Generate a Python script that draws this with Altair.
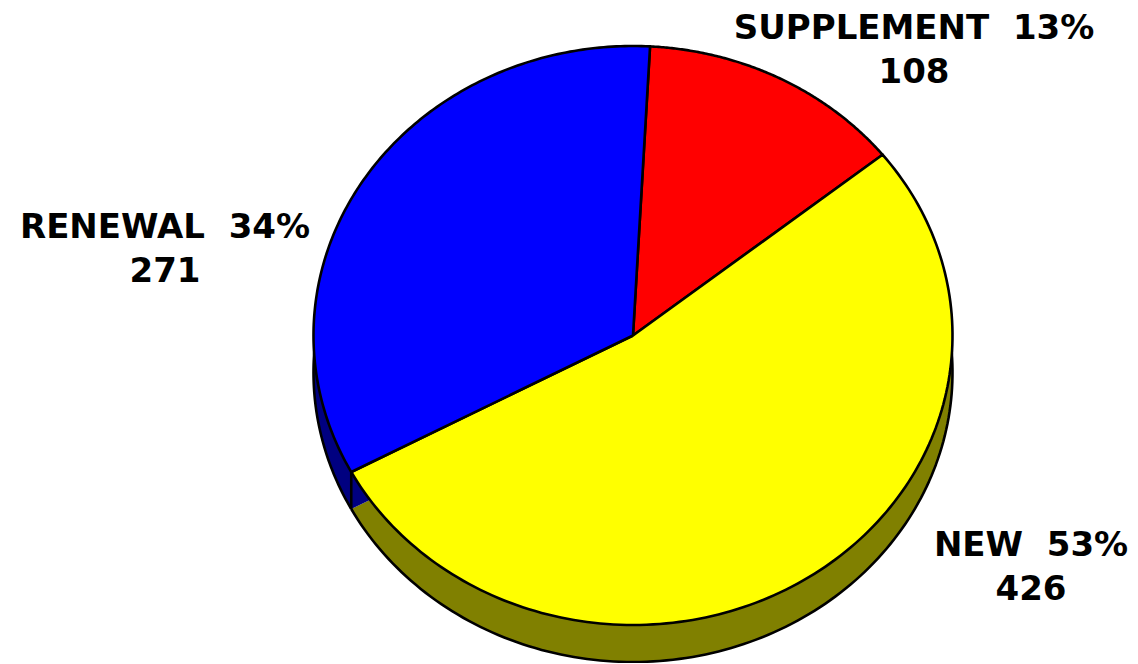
import math
import altair as alt
import pandas as pd

# ---- data ----
categories = ["SUPPLEMENT", "NEW", "RENEWAL"]
values = [108, 426, 271]
top_colors = ["#FF0000", "#FFFF00", "#0000FF"]
side_colors = ["#800000", "#808000", "#000080"]

total = sum(values)
labels = [f"{c}\u00a0\u00a0{round(100 * v / total)}%\n{v}" for c, v in zip(categories, values)]
df = pd.DataFrame({"category": categories, "value": values,
                   "order": list(range(len(categories))), "label": labels})

# ---- geometry / style constants ----
N = 160                       # samples along each slice arc
START = math.radians(3.06)    # angle of first slice edge (clockwise from 12 o'clock)
CX, CY, RX, RY = 625, 327.5, 319.5, 289.5
DEPTH = 37 / RY               # extrusion depth in unit coordinates
SW = 2.6

xscale = alt.Scale(domain=[-1, 1], range=[CX - RX, CX + RX])
yscale = alt.Scale(domain=[-1, 1], range=[CY + RY, CY - RY])

base = (
    alt.Chart(df)
    .transform_window(cum="sum(value)", sort=[alt.SortField("order")], frame=[None, 0])
    .transform_joinaggregate(total="sum(value)")
    .transform_calculate(
        a0=f"{START} + 2*PI*(datum.cum - datum.value)/datum.total",
        a1=f"{START} + 2*PI*datum.cum/datum.total",
    )
)

pts = (
    base.transform_calculate(steps=f"sequence(0, {N + 3})")
    .transform_flatten(["steps"], ["k"])
    .transform_calculate(
        t=f"clamp((datum.k - 1)/{N}, 0, 1)",
        ang="datum.a0 + (datum.a1 - datum.a0)*datum.t",
        center=f"datum.k == 0 || datum.k == {N + 2}",
        px="datum.center ? 0 : sin(datum.ang)",
        py="datum.center ? 0 : cos(datum.ang)",
        pys=f"datum.py - {DEPTH}",
    )
)

X = alt.X("px:Q", scale=xscale, axis=None)

side = pts.mark_line(filled=True, strokeWidth=0).encode(
    x=X,
    y=alt.Y("pys:Q", scale=yscale, axis=None),
    color=alt.Color("category:N", scale=alt.Scale(domain=categories, range=side_colors), legend=None),
    order=alt.Order("k:Q"),
    detail="category:N",
)

side_outline = (
    pts.transform_filter(f"datum.k >= 1 && datum.k <= {N + 1}")
    .mark_line(stroke="black", strokeWidth=SW, strokeJoin="round")
    .encode(
        x=X,
        y=alt.Y("pys:Q", scale=yscale, axis=None),
        order=alt.Order("k:Q"),
        detail="category:N",
    )
)

edges = (
    base.transform_calculate(
        ex="sin(datum.a0)", ey0="cos(datum.a0)", ey1=f"cos(datum.a0) - {DEPTH}"
    )
    .mark_rule(color="black", strokeWidth=SW)
    .encode(
        x=alt.X("ex:Q", scale=xscale, axis=None),
        y=alt.Y("ey0:Q", scale=yscale, axis=None),
        y2="ey1:Q",
    )
)

top = pts.mark_line(filled=True, stroke="black", strokeWidth=SW, strokeJoin="round").encode(
    x=X,
    y=alt.Y("py:Q", scale=yscale, axis=None),
    color=alt.Color("category:N", scale=alt.Scale(domain=categories, range=top_colors), legend=None),
    order=alt.Order("k:Q"),
    detail="category:N",
)

label_pos = {"SUPPLEMENT": (906, 31), "RENEWAL": (157, 230), "NEW": (1023, 548)}
texts = []
for cat, (lx, ly) in label_pos.items():
    texts.append(
        alt.Chart(df)
        .transform_filter(alt.datum.category == cat)
        .mark_text(font="DejaVu Sans", fontWeight="bold", fontSize=34, lineBreak="\n",
                   lineHeight=44, align="center", baseline="alphabetic", color="black")
        .encode(text="label:N", x=alt.value(lx), y=alt.value(ly))
    )

chart = (
    alt.layer(side, side_outline, edges, top, *texts)
    .resolve_scale(color="independent")
    .properties(width=1122, height=655, padding=0,
                autosize=alt.AutoSizeParams(type="none"))
    .configure_view(stroke=None)
)

chart.save("out.html", embed_options={"renderer": "svg", "actions": False})
